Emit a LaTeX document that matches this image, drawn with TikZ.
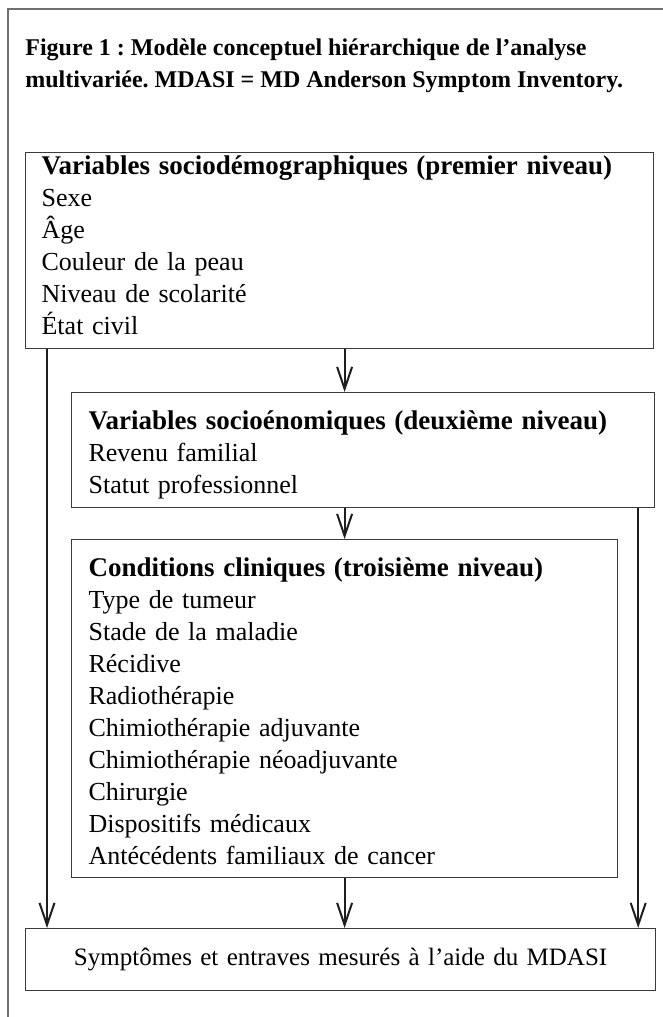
\documentclass[tikz,border=0pt]{standalone}
\usepackage{fontspec}
\setmainfont{Liberation Serif}
\usetikzlibrary{arrows.meta,positioning,calc}
\definecolor{boxline}{HTML}{3A3A3A}
\definecolor{frameline}{HTML}{707070}
\definecolor{arrowline}{HTML}{1E1E1E}
\newcommand{\bodysize}{\fontsize{13}{16}\selectfont}
\newcommand{\headtext}[1]{{\bfseries\fontsize{13.5}{16}\selectfont #1}}
\frenchspacing
\tikzset{
  levelbox/.style={draw=boxline,line width=0.6pt,anchor=north west,align=left,
    inner xsep=8pt,inner ysep=0pt,font=\bodysize},
  outcome/.style={draw=boxline,line width=0.6pt,anchor=north west,align=center,
    inner xsep=8pt,inner ysep=0pt,font=\fontsize{12.5}{16}\selectfont},
  arrow/.style={-{Straight Barb[length=11pt,width=7.5pt,line width=1pt]},draw=arrowline,line width=1pt},
  frame/.style={draw=frameline,line width=0.8pt},
  caption/.style={anchor=north west,align=left,inner sep=0pt,font=\bfseries\fontsize{12}{16}\selectfont}
}
\begin{document}
\begin{tikzpicture}[x=0.5pt,y=-0.5pt]
  \useasboundingbox (0,0) rectangle (663,1017);
  \draw[frame] (8,1017) -- (8,9) -- (663,9);
  \node[caption] (title) at (25,38)
    {Figure 1 : Modèle conceptuel hiérarchique de l’analyse\\
     multivariée. MDASI = MD Anderson Symptom Inventory.};
  % niveaux
  \node[levelbox,minimum width=314pt,minimum height=98pt,text width=298pt,inner xsep=7.5pt] (socio) at (25,152)
    {\headtext{Variables sociodémographiques (premier niveau)}\\
     Sexe\\ Âge\\ Couleur de la peau\\ Niveau de scolarité\\ État civil\rule[-5pt]{0pt}{5pt}};
  \node[levelbox,minimum width=291.5pt,minimum height=57.5pt,text width=274.5pt,inner xsep=8.5pt] (eco) at (71,392)
    {\rule{0pt}{14pt}\headtext{Variables socioénomiques (deuxième niveau)}\\
     Revenu familial\\ Statut professionnel};
  \node[levelbox,minimum width=273pt,minimum height=169pt,text width=256pt,inner xsep=8.5pt] (clin) at (71,539)
    {\rule{0pt}{12pt}\headtext{Conditions cliniques (troisième niveau)}\\
     Type de tumeur\\ Stade de la maladie\\ Récidive\\ Radiothérapie\\
     Chimiothérapie adjuvante\\ Chimiothérapie néoadjuvante\\ Chirurgie\\
     Dispositifs médicaux\\ Antécédents familiaux de cancer};
  \node[outcome,minimum width=315pt,minimum height=31pt,text width=299pt] (mdasi) at (25,928)
    {Symptômes et entraves mesurés à l’aide du MDASI};
  % fleches
  \draw[arrow] (socio.south -| clin.north) -- (eco.north -| clin.north);
  \draw[arrow] (eco.south -| clin.north) -- (clin.north);
  \draw[arrow] (clin.south) -- (mdasi.north -| clin.south);
  \draw[arrow] ([xshift=11pt]socio.south west) -- ([xshift=11pt]socio.south west |- mdasi.north);
  \draw[arrow] ([xshift=-8.5pt]eco.south east) -- ([xshift=-8.5pt]eco.south east |- mdasi.north);
\end{tikzpicture}
\end{document}
